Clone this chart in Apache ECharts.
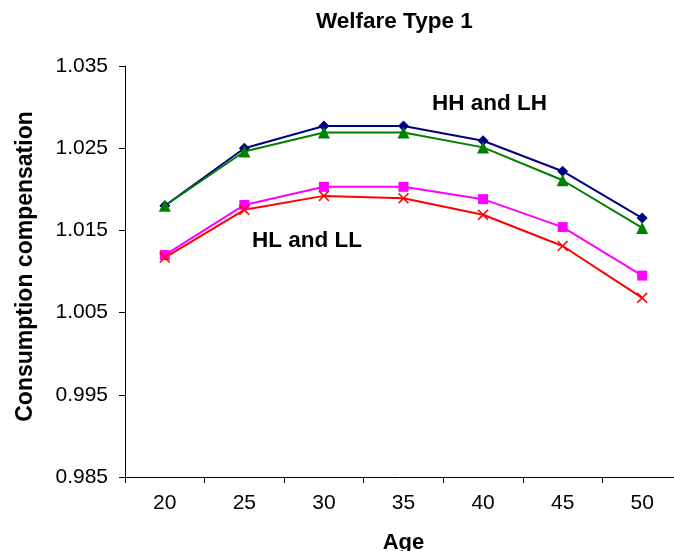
<!DOCTYPE html>
<html>
<head>
<meta charset="utf-8">
<script src="https://cdn.jsdelivr.net/npm/echarts@6/dist/echarts.min.js"></script>
<style>
html,body{margin:0;padding:0;background:#fff;}
#chart{width:674px;height:551px;}
</style>
</head>
<body>
<div id="chart"></div>
<script>
const ages = ['20','25','30','35','40','45','50'];
const hh = [1.0180, 1.0250, 1.0277, 1.0277, 1.0259, 1.0222, 1.0165];
const lh = [1.0180, 1.0246, 1.0269, 1.0269, 1.0251, 1.0211, 1.0153];
const hl = [1.0120, 1.0181, 1.0203, 1.0203, 1.0188, 1.0154, 1.0095];
const ll = [1.0117, 1.0175, 1.0192, 1.0189, 1.0169, 1.0131, 1.0068];
const yTicks = {min: 0.985, max: 1.035, interval: 0.01};

const FONT = '"Liberation Sans", Arial, sans-serif';
const crossPath = 'path://M0,1 L1,0 L5,4 L9,0 L10,1 L6,5 L10,9 L9,10 L5,6 L1,10 L0,9 L4,5 Z';

function line(name, data, color, symbol, size) {
  return {
    name: name, type: 'line', data: data,
    symbol: symbol, symbolSize: size,
    lineStyle: {color: color, width: 2},
    itemStyle: {color: color},
    animation: false
  };
}

const chart = echarts.init(document.getElementById('chart'));
chart.setOption({
  backgroundColor: '#fff',
  title: {
    text: 'Welfare Type 1',
    left: 316, top: 10, padding: 0,
    textStyle: {fontFamily: FONT, fontSize: 22.5, fontWeight: 'bold', color: '#000'}
  },
  grid: {left: 125, right: -8, top: 66, bottom: 74, containLabel: false, outerBoundsMode: 'none'},
  xAxis: {
    type: 'category', data: ages, boundaryGap: true,
    name: 'Age', nameLocation: 'middle', nameGap: 55,
    nameTextStyle: {fontFamily: FONT, fontSize: 22, fontWeight: 'bold', color: '#000'},
    axisLine: {lineStyle: {color: '#000', width: 1}},
    axisTick: {show: true, inside: false, length: 6, alignWithLabel: false, lineStyle: {color: '#000'}},
    axisLabel: {fontFamily: FONT, fontSize: 21, color: '#000', margin: 16},
    splitLine: {show: false}
  },
  yAxis: {
    type: 'value', min: yTicks.min, max: yTicks.max, interval: yTicks.interval,
    name: 'Consumption compensation', nameLocation: 'middle', nameGap: 88, nameRotate: 90,
    nameTextStyle: {fontFamily: FONT, fontSize: 23, fontWeight: 'bold', color: '#000', padding: [0, 0, 0, 10]},
    axisLine: {show: true, lineStyle: {color: '#000', width: 1}},
    axisTick: {show: true, inside: false, length: 6, lineStyle: {color: '#000'}},
    axisLabel: {fontFamily: FONT, fontSize: 21, color: '#000', margin: 17,
      formatter: v => v.toFixed(3)},
    splitLine: {show: false}
  },
  graphic: [
    {type: 'text', left: 432, top: 92, style: {text: 'HH and LH', font: 'bold 22.5px ' + FONT, fill: '#000'}},
    {type: 'text', left: 252, top: 229, style: {text: 'HL and LL', font: 'bold 22.5px ' + FONT, fill: '#000'}}
  ],
  series: [
    line('HL', hl, '#FF00FF', 'rect', 10),
    line('LL', ll, '#FF0000', crossPath, 11),
    line('HH', hh, '#000080', 'diamond', 11),
    line('LH', lh, '#008000', 'triangle', 12)
  ]
});
</script>
</body>
</html>
